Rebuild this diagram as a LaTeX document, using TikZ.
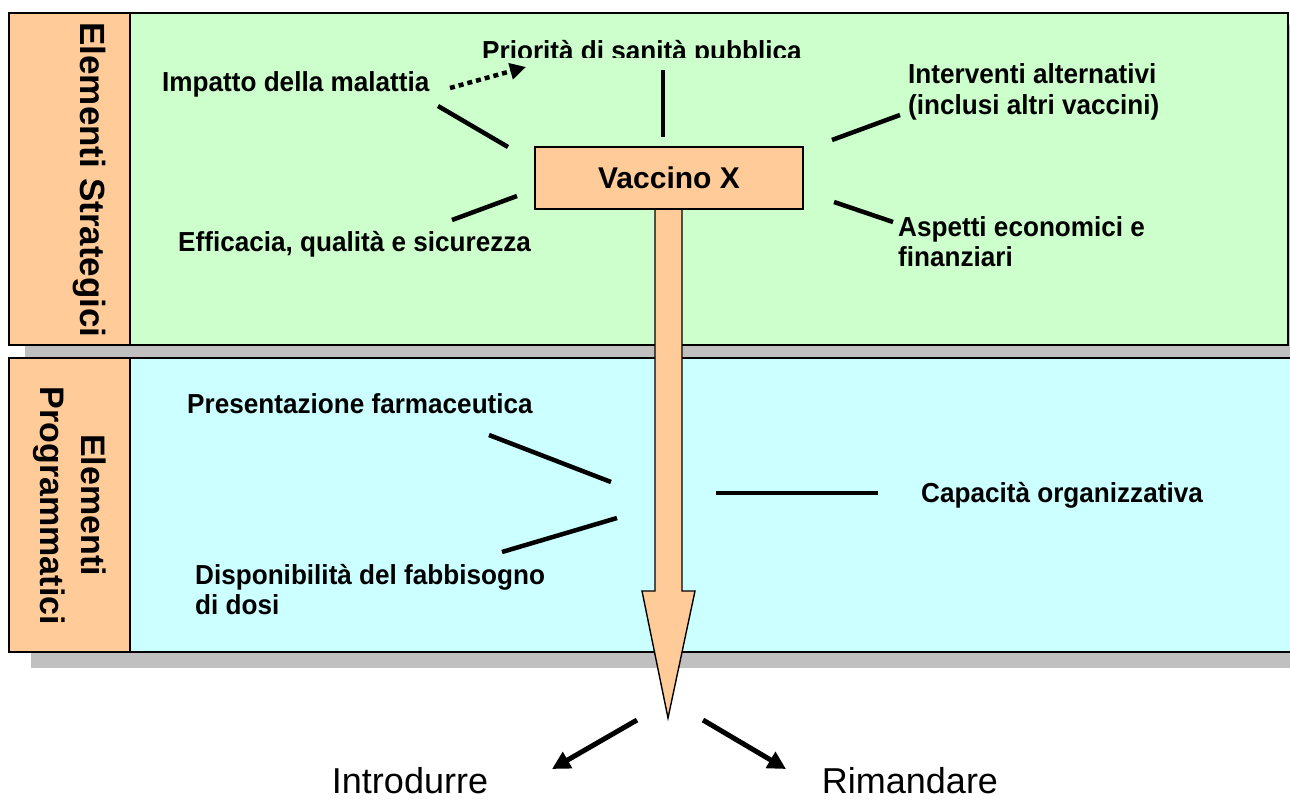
\documentclass[tikz,border=0pt]{standalone}
\usepackage{fontspec}
\setmainfont{Liberation Sans}
\newfontfamily\labfont[FakeStretch=0.95]{Liberation Sans}
\usetikzlibrary{arrows.meta}
\definecolor{grn}{HTML}{CCFFCC}
\definecolor{cyn}{HTML}{CCFFFF}
\definecolor{org}{HTML}{FFCC99}
\definecolor{shd}{HTML}{C0C0C0}
\begin{document}
\begin{tikzpicture}[x=1pt,y=-1pt,
 lab/.style={anchor=base west, inner sep=0pt, font=\labfont\bfseries\fontsize{27.5}{30}\selectfont},
 side/.style={anchor=base, inner sep=0pt, rotate=-90, font=\bfseries\fontsize{34}{40}\selectfont},
 ln/.style={line width=4.5pt},
 pan/.style={draw=black, line width=1.6pt},
 big/.style={anchor=base, inner sep=0pt, font=\fontsize{36}{40}\selectfont},
]
\useasboundingbox (0,0) rectangle (1290,800);
\fill[white] (0,0) rectangle (1290,800);
% shadows
\fill[shd] (25,25) rectangle (1310,357);
\fill[shd] (31,370) rectangle (1310,668);
% panels
\draw[pan, fill=grn] (9,13) rectangle (1288,345);
\draw[pan, fill=org] (9,13) rectangle (130,345);
\draw[pan, fill=cyn] (9,358) rectangle (1310,652);
\draw[pan, fill=org] (9,358) rectangle (130,652);
% side labels
\node[side, font=\bfseries\fontsize{35}{40}\selectfont] (es) at (80,180) {Elementi Strategici};
\node[side] (ep1) at (81,505) {Elementi};
\node[side] (ep2) at (40,506) {Programmatici};
% big arrow
\draw[line width=1.4pt, fill=org, line join=miter] (655,200) -- (655,591) -- (642,591) -- (668,718) -- (695,591) -- (682,591) -- (682,200) -- cycle;
\node[draw=black, line width=1.6pt, fill=org, minimum width=268pt, minimum height=62pt, inner sep=0pt,
  font=\bfseries\fontsize{30}{32}\selectfont] (vx) at (669,178) {Vaccino X};
% labels
\node[lab] (imp) at (162,91) {Impatto della malattia};
\begin{scope}
\clip (400,0) rectangle (900,58);
\node[lab] (pri) at (482,61) {Priorità di sanità pubblica};
\end{scope}
\node[lab] (int1) at (908,84) {Interventi alternativi};
\node[lab] (int2) at (908,114) {(inclusi altri vaccini)};
\node[lab] (asp1) at (898,236) {Aspetti economici e};
\node[lab] (asp2) at (898,266) {finanziari};
\node[lab] (eff) at (178,251) {Efficacia, qualità e sicurezza};
\node[lab] (pre) at (187,413) {Presentazione farmaceutica};
\node[lab] (cap) at (921,502) {Capacità organizzativa};
\node[lab] (dis1) at (195,584) {Disponibilità del fabbisogno};
\node[lab] (dis2) at (195,614) {di dosi};
% connector lines
\coordinate (a1) at (438,106); \coordinate (a2) at (508,147);
\coordinate (b1) at (663,70);  \coordinate (b2) at (663,137);
\coordinate (c1) at (832,140); \coordinate (c2) at (900,115);
\coordinate (d1) at (834,202); \coordinate (d2) at (893,222);
\coordinate (e1) at (452,220); \coordinate (e2) at (517,196);
\coordinate (f1) at (489,435); \coordinate (f2) at (611,482);
\coordinate (g1) at (502,552); \coordinate (g2) at (617,518);
\coordinate (h1) at (716,493); \coordinate (h2) at (878,493);
\foreach \p/\q in {a1/a2,b1/b2,c1/c2,d1/d2,e1/e2,f1/f2,g1/g2,h1/h2}
  \draw[ln] (\p) -- (\q);
% dotted arrow
\coordinate (t1) at (450,88); \coordinate (t2) at (526,67);
\draw[line width=4.5pt, dash pattern=on 5pt off 4pt, -{Triangle[length=16pt,width=16pt]}] (t1) -- (t2);
% outcome arrows
\coordinate (o0) at (637,720); \coordinate (o1) at (552,769);
\coordinate (p0) at (703,720); \coordinate (p1) at (786,769);
\draw[line width=5pt, -{Triangle[length=18pt,width=18pt]}] (o0) -- (o1);
\draw[line width=5pt, -{Triangle[length=18pt,width=18pt]}] (p0) -- (p1);
\node[big] (intro) at (410,793) {Introdurre};
\node[big] (riman) at (910,793) {Rimandare};
\end{tikzpicture}
\end{document}
